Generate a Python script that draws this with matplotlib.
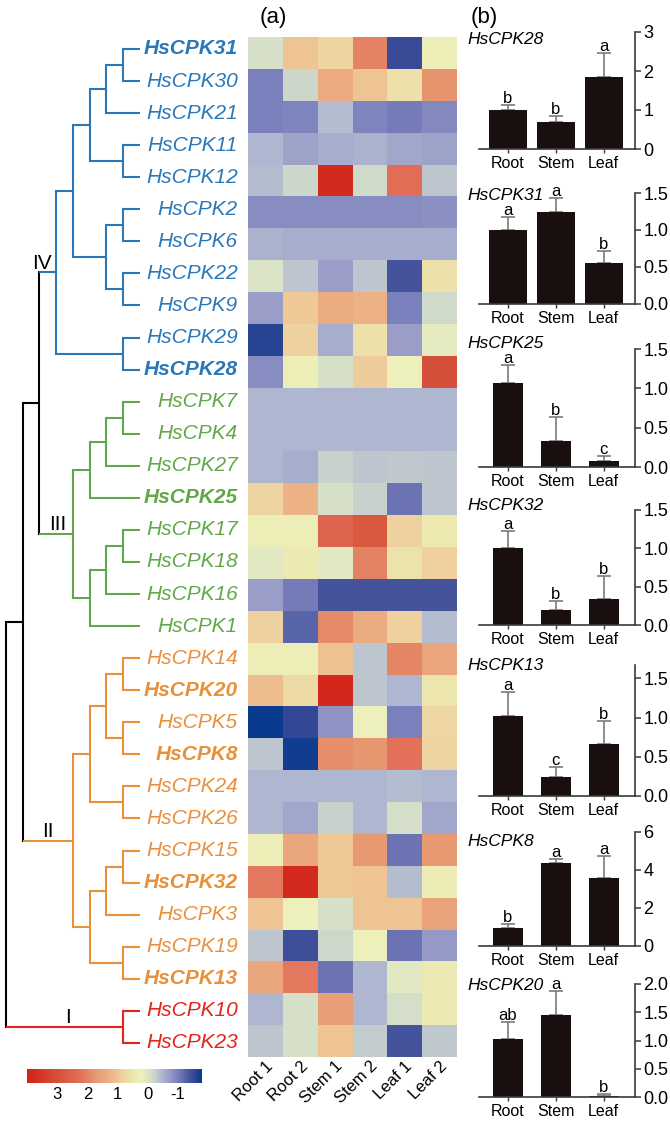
import numpy as np
import matplotlib
matplotlib.use("Agg")
import matplotlib.pyplot as plt
import matplotlib.transforms as mtransforms
from matplotlib.colors import LinearSegmentedColormap, Normalize

plt.rcParams['font.family'] = ['Liberation Sans', 'DejaVu Sans']

# ---------------- data ----------------
genes = ["HsCPK31", "HsCPK30", "HsCPK21", "HsCPK11", "HsCPK12", "HsCPK2", "HsCPK6",
         "HsCPK22", "HsCPK9", "HsCPK29", "HsCPK28", "HsCPK7", "HsCPK4", "HsCPK27",
         "HsCPK25", "HsCPK17", "HsCPK18", "HsCPK16", "HsCPK1", "HsCPK14", "HsCPK20",
         "HsCPK5", "HsCPK8", "HsCPK24", "HsCPK26", "HsCPK15", "HsCPK32", "HsCPK3",
         "HsCPK19", "HsCPK13", "HsCPK10", "HsCPK23"]
bold_genes = ["HsCPK31", "HsCPK28", "HsCPK25", "HsCPK20", "HsCPK8", "HsCPK32", "HsCPK13"]
samples = ["Root 1", "Root 2", "Stem 1", "Stem 2", "Leaf 1", "Leaf 2"]

heat_values = [
    [-0.10, 1.00, 0.80, 2.00, -1.50, 0.30],    # 31
    [-1.00, -0.20, 1.40, 1.00, 0.60, 1.80],    # 30
    [-1.00, -0.95, -0.40, -0.95, -1.05, -0.90],  # 21
    [-0.45, -0.65, -0.55, -0.50, -0.60, -0.65],  # 11
    [-0.40, -0.20, 3.80, -0.15, 2.30, -0.35],  # 12
    [-0.85, -0.85, -0.85, -0.85, -0.85, -0.83],  # 2
    [-0.50, -0.55, -0.55, -0.55, -0.55, -0.55],  # 6
    [-0.05, -0.35, -0.70, -0.35, -1.40, 0.60],  # 22
    [-0.70, 0.95, 1.35, 1.30, -1.00, -0.15],   # 9
    [-1.60, 0.85, -0.55, 0.60, -0.70, 0.10],   # 29
    [-0.85, 0.30, -0.10, 0.90, 0.20, 3.00],    # 28
    [-0.45, -0.45, -0.45, -0.45, -0.45, -0.45],  # 7
    [-0.45, -0.45, -0.45, -0.45, -0.45, -0.45],  # 4
    [-0.45, -0.55, -0.25, -0.35, -0.32, -0.35],  # 27
    [0.80, 1.30, -0.10, -0.25, -1.10, -0.35],  # 25
    [0.30, 0.30, 2.50, 2.80, 0.85, 0.45],      # 17
    [0.05, 0.40, 0.05, 2.00, 0.55, 0.85],      # 18
    [-0.70, -1.05, -1.40, -1.40, -1.40, -1.40],  # 16
    [0.85, -1.25, 1.90, 1.35, 0.85, -0.40],    # 1
    [0.30, 0.30, 1.05, -0.35, 1.95, 1.50],     # 14
    [1.10, 0.70, 3.90, -0.35, -0.45, 0.50],    # 20
    [-1.80, -1.55, -0.80, 0.20, -1.00, 0.75],  # 5
    [-0.35, -1.75, 1.85, 1.75, 2.20, 0.80],    # 8
    [-0.45, -0.45, -0.45, -0.45, -0.40, -0.45],  # 24
    [-0.45, -0.60, -0.25, -0.45, -0.12, -0.60],  # 26
    [0.30, 1.45, 0.95, 1.70, -1.10, 1.70],     # 15
    [2.10, 3.80, 0.95, 1.00, -0.40, 0.35],     # 32
    [1.00, 0.20, -0.10, 1.00, 1.00, 1.55],     # 3
    [-0.35, -1.45, -0.18, 0.20, -1.10, -0.75],  # 19
    [1.45, 2.10, -1.10, -0.45, 0.05, 0.40],    # 13
    [-0.45, -0.10, 1.60, -0.45, -0.12, 0.40],  # 10
    [-0.35, -0.10, 1.00, -0.30, -1.40, -0.32],  # 23
]

# tree topology (cladogram)
clade_IV = (((((("HsCPK31", "HsCPK30"), "HsCPK21"), ("HsCPK11", "HsCPK12")),
              (("HsCPK2", "HsCPK6"), ("HsCPK22", "HsCPK9"))), ("HsCPK29", "HsCPK28")))
clade_III = (((("HsCPK7", "HsCPK4"), "HsCPK27"), "HsCPK25"),
             ((("HsCPK17", "HsCPK18"), "HsCPK16"), "HsCPK1"))
clade_II = (((("HsCPK14", "HsCPK20"), ("HsCPK5", "HsCPK8")), ("HsCPK24", "HsCPK26")),
            ((("HsCPK15", "HsCPK32"), "HsCPK3"), ("HsCPK19", "HsCPK13")))
clade_I = ("HsCPK10", "HsCPK23")
tree_root = (((clade_IV, clade_III), clade_II), clade_I)
clade_names = ["IV", "III", "II", "I"]
clade_colors = ["#2b78b8", "#62a84a", "#e8913a", "#e3231c"]

# bar charts
tissues = ["Root", "Stem", "Leaf"]
bar_genes = ["HsCPK28", "HsCPK31", "HsCPK25", "HsCPK32", "HsCPK13", "HsCPK8", "HsCPK20"]
bar_means = [[1.00, 0.70, 1.85], [1.00, 1.24, 0.55], [1.07, 0.33, 0.07],
             [1.00, 0.20, 0.34], [1.02, 0.24, 0.66], [0.95, 4.35, 3.60],
             [1.02, 1.45, 0.02]]
bar_errs = [[0.12, 0.15, 0.60], [0.17, 0.19, 0.17], [0.23, 0.31, 0.07],
            [0.22, 0.11, 0.30], [0.30, 0.13, 0.29], [0.20, 0.25, 1.15],
            [0.30, 0.43, 0.03]]
bar_letters = [["b", "b", "a"], ["a", "a", "b"], ["a", "b", "c"], ["a", "b", "b"],
               ["a", "c", "b"], ["b", "a", "a"], ["ab", "a", "b"]]

# colour scale
cmap_values = [-1.8, -1.5, -1.0, -0.7, -0.45, -0.25, -0.1, 0.2, 0.5, 0.85, 1.0,
               1.4, 1.8, 2.2, 2.8, 3.0, 3.8, 4.0]
cmap_colors = ["#0a3a8e", "#3a4a96", "#7a80bc", "#9a9ec8", "#b0b8d0", "#c8d2cc",
               "#d6e0c8", "#eef0bc", "#ece6ae", "#eed09e", "#eec494", "#ebaa80",
               "#e6946e", "#e2705a", "#d95a40", "#d4503a", "#d42a1e", "#d22418"]
cbar_ticks = [3, 2, 1, 0, -1]

# ---------------- figure ----------------
W, H = 670, 1121
fig = plt.figure(figsize=(W / 100, H / 100), dpi=100)


def px_axes(x0, y0, x1, y1):
    return fig.add_axes([x0 / W, 1 - y1 / H, (x1 - x0) / W, (y1 - y0) / H])


vmin, vmax = cmap_values[0], cmap_values[-1]
cmap = LinearSegmentedColormap.from_list(
    "hm", [((v - vmin) / (vmax - vmin), c) for v, c in zip(cmap_values, cmap_colors)])
norm = Normalize(vmin=vmin, vmax=vmax)

# ---- heatmap ----
axh = px_axes(248, 37, 457, 1057)
data = np.array(heat_values)
mesh = axh.pcolormesh(np.arange(len(samples) + 1), np.arange(len(genes) + 1), data,
                      cmap=cmap, norm=norm, edgecolors='none')
axh.set_ylim(len(genes), 0)
axh.set_xlim(0, len(samples))
axh.set_yticks([])
axh.set_xticks(np.arange(len(samples)) + 0.5)
axh.set_xticklabels(samples, rotation=45, ha='right', va='center', rotation_mode='anchor',
                    fontsize=12)
axh.tick_params(axis='x', length=0, pad=5)
shift = mtransforms.ScaledTranslation(5 / 100, 0, fig.dpi_scale_trans)
for lab in axh.get_xticklabels():
    lab.set_transform(lab.get_transform() + shift)
for s in axh.spines.values():
    s.set_visible(False)

# ---- tree ----
axt = px_axes(0, 37, 248, 1057)
axt.set_xlim(-0.358, 14.448)
axt.set_ylim(31.44, -0.374)
axt.axis('off')
LEAF_LEVEL = 8
LW = 1.5


def height(node):
    if isinstance(node, str):
        return 0
    return 1 + max(height(c) for c in node)


clades = [clade_IV, clade_III, clade_II, clade_I]
leaf_color = {}


def clade_color_of(node):
    for cl, col in zip(clades, clade_colors):
        if node is cl:
            return col
    return None


def draw(node, col):
    c = clade_color_of(node)
    if c is not None:
        col = c
    if isinstance(node, str):
        leaf_color[node] = col
        return LEAF_LEVEL, genes.index(node), col
    x = LEAF_LEVEL - height(node)
    kids = [draw(ch, col) for ch in node]
    ys = [k[1] for k in kids]
    vcol = col if col is not None else 'black'
    axt.plot([x, x], [min(ys), max(ys)], color=vcol, lw=LW, solid_capstyle='projecting')
    for kx, ky, kc in kids:
        axt.plot([x, kx], [ky, ky], color=kc if kc is not None else 'black', lw=LW,
                 solid_capstyle='butt')
    y = (min(ys) + max(ys)) / 2
    return x, y, col


draw(tree_root, None)

for i, g in enumerate(genes):
    axt.text(13.85, i, g, ha='right', va='center', fontsize=15, style='italic',
             fontweight='bold' if g in bold_genes else 'normal', color=leaf_color[g])


def node_y(node):
    if isinstance(node, str):
        return genes.index(node)
    ys = [node_y(c) for c in node]
    return (min(ys) + max(ys)) / 2


label_x = [2.15, 3.1, 2.5, 3.7]
for cl, name, lx in zip(clades, clade_names, label_x):
    axt.text(lx, node_y(cl) - 0.12, name, ha='center', va='baseline', fontsize=15,
             color='black')

# ---- colorbar ----
cax = px_axes(27, 1069, 202, 1083)
cb = fig.colorbar(mesh, cax=cax, orientation='horizontal')
cax.invert_xaxis()
cb.set_ticks(cbar_ticks)
cb.set_ticklabels([str(t) for t in cbar_ticks])
cb.outline.set_visible(False)
cax.tick_params(length=0, labelsize=12, pad=3)

# ---- bar panels ----
panel_px = [(32, 149), (193, 304), (349, 467), (510, 625), (665, 796), (832, 946), (984, 1097)]
panel_ylim = [3, 1.5, 1.5, 1.5, 1.67, 6, 2.0]
panel_ticks = [[0, 1, 2, 3], [0, 0.5, 1.0, 1.5], [0, 0.5, 1.0, 1.5], [0, 0.5, 1.0, 1.5],
               [0, 0.5, 1.0, 1.5], [0, 2, 4, 6], [0, 0.5, 1.0, 1.5, 2.0]]
panel_fmt = ["{:.0f}", "{:.1f}", "{:.1f}", "{:.1f}", "{:.1f}", "{:.0f}", "{:.1f}"]
panel_title_y = [40, 195, 343, 505, 665, 842, 986]
panel_width = [0.78, 0.78, 0.63, 0.63, 0.63, 0.63, 0.63]
bar_color = "#1a0f0f"
axis_color = "#3a3a3a"

for k in range(len(bar_genes)):
    top, bot = panel_px[k]
    ax = px_axes(479, top, 635, bot)
    x = np.arange(len(tissues))
    ax.bar(x, bar_means[k], width=panel_width[k], color=bar_color, zorder=2)
    ax.errorbar(x, bar_means[k], yerr=[[0] * 3, bar_errs[k]], fmt='none',
                ecolor='#7a7a7a', elinewidth=1.2, capsize=5, capthick=1.2, zorder=1)
    for i in range(3):
        ax.annotate(bar_letters[k][i], (x[i], bar_means[k][i] + bar_errs[k][i]),
                    xytext=(0, 1.5), textcoords='offset points', ha='center',
                    va='baseline', fontsize=12, annotation_clip=False)
    ax.set_xlim(-0.6, 2.65)
    ax.set_ylim(0, panel_ylim[k])
    ax.spines['left'].set_visible(False)
    ax.spines['top'].set_visible(False)
    for side in ['bottom', 'right']:
        ax.spines[side].set_color(axis_color)
        ax.spines[side].set_linewidth(1.2)
    ax.yaxis.tick_right()
    ax.set_yticks(panel_ticks[k])
    ax.set_yticklabels([panel_fmt[k].format(t) for t in panel_ticks[k]])
    ax.tick_params(axis='y', direction='out', length=4, width=1.1, color=axis_color,
                   labelsize=13, pad=2)
    ax.set_xticks(x)
    ax.set_xticklabels(tissues)
    ax.tick_params(axis='x', direction='out', length=3, width=1.0, color=axis_color,
                   labelsize=11.5, pad=2)
    ax.patch.set_alpha(0)
    fig.text(467 / W, 1 - panel_title_y[k] / H, bar_genes[k], ha='left', va='center',
             fontsize=12.5, style='italic')

fig.text(273 / W, 1 - 17 / H, "(a)", ha='center', va='center', fontsize=16)
fig.text(484 / W, 1 - 17 / H, "(b)", ha='center', va='center', fontsize=16)

fig.savefig("out.png", dpi=100)
